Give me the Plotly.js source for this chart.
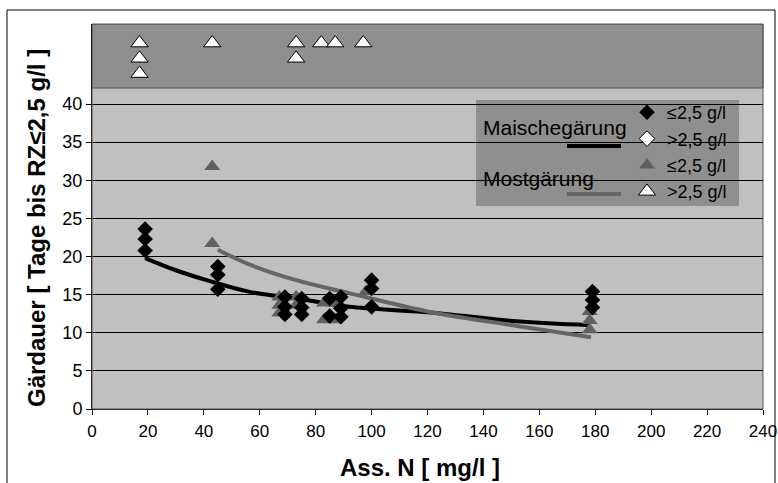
<!DOCTYPE html>
<html>
<head>
<meta charset="utf-8">
<script src="https://cdn.plot.ly/plotly-3.0.1.min.js"></script>
<style>html,body{margin:0;padding:0;background:#fff;}#chart{width:778px;height:483px;}</style>
</head>
<body>
<div id="chart"></div>
<script>
// Maischegärung, RZ <= 2,5 g/l (black diamonds)
const maischeX = [19,19,19, 45,45,45, 69,69,69, 75,75,75, 85,85, 89,89,89, 100,100,100, 179,179,179];
const maischeY = [23.6,22.3,20.8, 18.7,17.6,15.7, 14.7,13.4,12.4, 14.5,13.3,12.4, 14.5,12.2, 14.7,13.2,12.1, 16.9,15.8,13.4, 15.4,14.3,13.3];
// Maischegärung, RZ > 2,5 g/l (no points visible in picture)
const maischeOverX = [null];
const maischeOverY = [null];
// Mostgärung, RZ <= 2,5 g/l (grey triangles)
const mostX = [43,43, 67,67,67, 73,73, 83,87, 83,87, 98, 178,178,178];
const mostY = [31.8,21.7, 14.7,13.6,12.6, 14.7,13.6, 13.9,13.9, 11.7,11.7, 15.4, 12.8,11.6,10.4];
// Mostgärung, RZ > 2,5 g/l (white triangles, top band)
const mostOverX = [17,17,17, 43, 73,73, 82, 87, 97];
const mostOverY = [48,46,44, 48, 48,46, 48, 48, 48];
// Trend lines
const maischeTrendX = [19, 30, 41, 56, 75, 92, 120, 152, 178];
const maischeTrendY = [19.8, 18.2, 16.9, 15.4, 14.4, 13.4, 12.7, 11.5, 11.0];
const mostTrendX = [45, 56, 73, 92, 120, 152, 178.5];
const mostTrendY = [20.9, 19.0, 16.9, 15.2, 12.8, 10.9, 9.4];
// Axes
const xTicks = [0,20,40,60,80,100,120,140,160,180,200,220,240];
const yTicks = [0,5,10,15,20,25,30,35,40];
const legendLabelLE = "\u22642,5 g/l";
const legendLabelGT = ">2,5 g/l";
const xTitle = '<b>Ass. N [ mg/l ]</b>';
const yTitle = '<b>Gärdauer [ Tage bis RZ\u22642,5 g/l ]</b>';

const FONT = "Liberation Sans, Arial, sans-serif";
const L = 92, R = 15, T = 24, B = 74, W = 778, H = 483;
const PW = W - L - R, PH = H - T - B;
const px = v => (v - L) / PW;          // pixel x -> paper x
const py = v => (H - B - v) / PH;      // pixel y -> paper y

const traces = [
  {x: maischeTrendX, y: maischeTrendY, mode: 'lines', line: {color: '#000', width: 4, shape: 'spline'}, showlegend: false, hoverinfo: 'skip'},
  {x: mostTrendX, y: mostTrendY, mode: 'lines', line: {color: '#666666', width: 4, shape: 'spline'}, showlegend: false, hoverinfo: 'skip'},
  {x: mostX, y: mostY, mode: 'markers', name: legendLabelLE, marker: {symbol: 'triangle-up', size: 14, color: '#606060'}, legendrank: 3},
  {x: maischeX, y: maischeY, mode: 'markers', name: legendLabelLE, marker: {symbol: 'diamond', size: 12, color: '#000'}, legendrank: 1},
  {x: maischeOverX, y: maischeOverY, mode: 'markers', name: legendLabelGT, marker: {symbol: 'diamond', size: 12, color: '#fff', line: {color: '#000', width: 1}}, legendrank: 2},
  {x: mostOverX, y: mostOverY, mode: 'markers', name: legendLabelGT, marker: {symbol: 'triangle-up', size: 15, color: '#fff', line: {color: '#000', width: 1}}, legendrank: 4}
];

const layout = {
  width: W, height: H,
  margin: {l: L, r: R, t: T, b: B},
  paper_bgcolor: '#ffffff',
  plot_bgcolor: '#c0c0c0',
  font: {family: FONT, size: 18, color: '#000'},
  showlegend: true,
  legend: {x: px(627), y: py(94), xanchor: 'left', yanchor: 'top', bgcolor: 'rgba(0,0,0,0)', font: {family: FONT, size: 18, color: '#000'}, tracegroupgap: 0},
  xaxis: {
    range: [0, 240], tickvals: xTicks, ticks: 'outside', ticklen: 5, tickcolor: '#000',
    showgrid: false, zeroline: false, showline: true, linecolor: '#000', linewidth: 1,
    ticklabeloverflow: 'allow', ticklabelstandoff: 2,
    tickfont: {family: FONT, size: 17}
  },
  yaxis: {
    range: [0, 50.5], tickvals: yTicks, ticks: 'outside', ticklen: 5, tickcolor: '#000',
    showgrid: true, gridcolor: '#000', gridwidth: 1, zeroline: false, showline: true, linecolor: '#000', linewidth: 1,
    tickfont: {family: FONT, size: 18}
  },
  shapes: [
    // top band
    {type: 'rect', xref: 'paper', yref: 'y', x0: 0, x1: 1, y0: 42.1, y1: 50.5, fillcolor: '#8f8f8f', line: {color: '#555', width: 1}, layer: 'between'},
    // legend box
    {type: 'rect', xref: 'paper', yref: 'paper', x0: px(476), x1: px(739), y0: py(206), y1: py(100), fillcolor: '#8f8f8f', line: {width: 0}, layer: 'between'},
    // legend lines
    {type: 'line', xref: 'paper', yref: 'paper', x0: px(567), x1: px(621), y0: py(146), y1: py(146), line: {color: '#000', width: 4}},
    {type: 'line', xref: 'paper', yref: 'paper', x0: px(567), x1: px(621), y0: py(194), y1: py(194), line: {color: '#666666', width: 4}},
    // plot border
    {type: 'rect', xref: 'paper', yref: 'paper', x0: 0, x1: 1, y0: 0, y1: 1, line: {color: '#555', width: 1}, fillcolor: 'rgba(0,0,0,0)'},
    // outer chart border
    {type: 'rect', xref: 'paper', yref: 'paper', x0: px(7), x1: px(775), y0: py(492), y1: py(10), line: {color: '#000', width: 1}, fillcolor: 'rgba(0,0,0,0)'}
  ],
  annotations: [
    {xref: 'paper', yref: 'paper', x: px(481), y: py(128), xanchor: 'left', yanchor: 'middle', text: 'Maischegärung', showarrow: false, font: {family: FONT, size: 21, color: '#000'}},
    {xref: 'paper', yref: 'paper', x: px(481), y: py(178), xanchor: 'left', yanchor: 'middle', text: 'Mostgärung', showarrow: false, font: {family: FONT, size: 21, color: '#000'}},
    {xref: 'paper', yref: 'paper', x: px(420), y: py(467), xanchor: 'center', yanchor: 'middle', text: xTitle, showarrow: false, font: {family: FONT, size: 24, color: '#000'}},
    {xref: 'paper', yref: 'paper', x: px(37), y: py(228), xanchor: 'center', yanchor: 'middle', textangle: -90, text: yTitle, showarrow: false, font: {family: FONT, size: 24, color: '#000'}}
  ]
};

Plotly.newPlot('chart', traces, layout, {displayModeBar: false, staticPlot: true});
</script>
</body>
</html>
